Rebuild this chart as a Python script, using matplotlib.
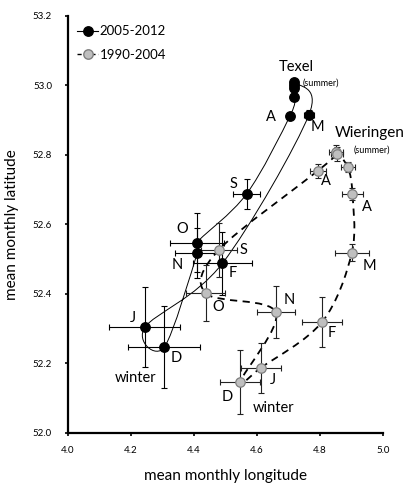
import numpy as np
import matplotlib.pyplot as plt
from matplotlib.path import Path
from matplotlib.patches import PathPatch
from matplotlib.lines import Line2D

plt.rcParams['font.family'] = ['Lato', 'DejaVu Sans']

# 2005-2012 (Texel), Jan..Dec
lon_new = [4.244, 4.490, 4.765, 4.718, 4.718, 4.718, 4.718, 4.705, 4.567, 4.409, 4.410, 4.306]
lat_new = [52.304, 52.488, 52.916, 53.010, 53.001, 52.993, 52.968, 52.913, 52.688, 52.548, 52.517, 52.247]
xerr_new = [0.113, 0.094, 0.016, 0.006, 0.006, 0.006, 0.006, 0.006, 0.042, 0.086, 0.069, 0.114]
yerr_new = [0.115, 0.091, 0.012, 0.006, 0.006, 0.006, 0.006, 0.006, 0.043, 0.085, 0.072, 0.117]

# 1990-2004 (Wieringen), Jan..Dec
lon_old = [4.613, 4.807, 4.901, 4.903, 4.888, 4.851, 4.854, 4.794, 4.479, 4.437, 4.660, 4.547]
lat_old = [52.188, 52.320, 52.519, 52.688, 52.765, 52.810, 52.803, 52.755, 52.527, 52.402, 52.347, 52.148]
xerr_old = [0.063, 0.064, 0.053, 0.032, 0.022, 0.022, 0.020, 0.025, 0.057, 0.062, 0.060, 0.063]
yerr_old = [0.072, 0.072, 0.024, 0.017, 0.015, 0.020, 0.020, 0.020, 0.077, 0.080, 0.075, 0.092]


def smooth_loop(xs, ys):
    # closed smoothed line through the monthly points (Excel-like)
    p = np.column_stack([xs, ys])
    n = len(p)
    verts = [p[0]]
    codes = [Path.MOVETO]
    for i in range(n):
        p0, p1, p2, p3 = p[i - 1], p[i], p[(i + 1) % n], p[(i + 2) % n]
        c1 = p1 + (p2 - p0) / 6
        c2 = p2 - (p3 - p1) / 6
        verts += [c1, c2, p2]
        codes += [Path.CURVE4] * 3
    return Path(verts, codes)


fig = plt.figure(figsize=(4.04, 4.84), dpi=100)
ax = fig.add_axes([0.1683, 0.1054, 0.7797, 0.8616])

ax.add_patch(PathPatch(smooth_loop(lon_new, lat_new), fill=False, ec='black', lw=0.7, zorder=2))
ax.add_patch(PathPatch(smooth_loop(lon_old, lat_old), fill=False, ec='black', lw=1.3,
                       ls=(0, (4, 3)), zorder=2))

ax.errorbar(lon_new, lat_new, xerr=xerr_new, yerr=yerr_new, fmt='none', ecolor='black',
            elinewidth=0.8, capsize=2, capthick=0.8, zorder=3)
ax.errorbar(lon_old, lat_old, xerr=xerr_old, yerr=yerr_old, fmt='none', ecolor='#222222',
            elinewidth=0.8, capsize=2, capthick=0.8, zorder=3)
ax.plot(lon_new, lat_new, 'o', ms=6.8, mfc='black', mec='black', ls='none', zorder=4)
ax.plot(lon_old, lat_old, 'o', ms=6.8, mfc='#bfbfbf', mec='#7f7f7f', mew=0.9, ls='none', zorder=4)

# labels
fs = 10.5
ax.text(4.724, 53.053, 'Texel', fontsize=10.5, ha='center', va='center')
ax.text(4.803, 53.008, '(summer)', fontsize=6.5, ha='center', va='center')
ax.text(4.959, 52.863, 'Wieringen', fontsize=11, ha='center', va='center')
ax.text(4.964, 52.814, '(summer)', fontsize=6.5, ha='center', va='center')

for txt, x, y in [('A', 4.644, 52.910), ('M', 4.791, 52.881), ('S', 4.527, 52.716),
                  ('O', 4.364, 52.586), ('N', 4.347, 52.483), ('F', 4.524, 52.461),
                  ('J', 4.205, 52.330), ('D', 4.344, 52.215), ('winter', 4.216, 52.157),
                  ('A', 4.819, 52.725), ('A', 4.948, 52.650), ('M', 4.956, 52.481),
                  ('S', 4.557, 52.527), ('O', 4.477, 52.363), ('N', 4.703, 52.383),
                  ('F', 4.837, 52.287), ('J', 4.652, 52.153), ('D', 4.507, 52.104),
                  ('winter', 4.652, 52.071)]:
    ax.text(x, y, txt, fontsize=fs, ha='center', va='center')

ax.set_xlim(4.0, 5.0)
ax.set_ylim(52.0, 53.2)
ax.set_xticks(np.arange(4.0, 5.01, 0.2))
ax.set_yticks(np.arange(52.0, 53.21, 0.2))
ax.xaxis.set_major_formatter(plt.FormatStrFormatter('%.1f'))
ax.yaxis.set_major_formatter(plt.FormatStrFormatter('%.1f'))
ax.tick_params(direction='out', length=2.5, width=1.2, labelsize=7, colors='black')
ax.tick_params(axis='x', pad=7)
ax.tick_params(axis='y', pad=9)
for s in ['top', 'right']:
    ax.spines[s].set_visible(False)
for s in ['left', 'bottom']:
    ax.spines[s].set_linewidth(1.6)

ax.set_xlabel('mean monthly longitude', fontsize=11, va='center')
ax.set_ylabel('mean monthly latitude', fontsize=11, va='center')
ax.xaxis.set_label_coords(0.5, -0.103)
ax.yaxis.set_label_coords(-0.178, 0.5)

handles = [Line2D([], [], color='black', lw=0.8, marker='o', ms=6.8, mfc='black', mec='black'),
           Line2D([], [], color='black', lw=1.0, ls=(0, (3, 2)), marker='o', ms=6.8,
                  mfc='#bfbfbf', mec='#7f7f7f')]
ax.legend(handles, ['2005-2012', '1990-2004'], loc='upper left', bbox_to_anchor=(0.0, 1.0),
          frameon=False, fontsize=9.5, handlelength=1.6, handletextpad=0.1,
          labelspacing=0.9, borderaxespad=0.3)

fig.savefig('out.png', dpi=100)
